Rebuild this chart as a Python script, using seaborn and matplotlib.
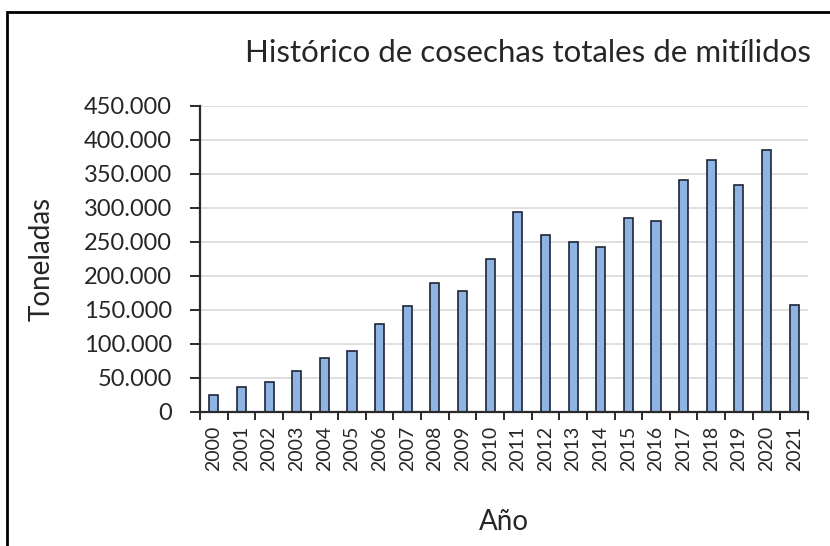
import matplotlib
matplotlib.use("Agg")
import matplotlib.pyplot as plt
import seaborn as sns
import pandas as pd
import numpy as np
from matplotlib.patches import Rectangle
from matplotlib.ticker import FuncFormatter

years = [str(y) for y in range(2000, 2022)]
toneladas = [25000, 37000, 44000, 60000, 80000, 89000, 130000, 156000, 190000, 178000,
             225000, 294000, 261000, 250000, 243000, 285000, 281000, 341000, 371000, 334000,
             386000, 157000]
y_ticks = [0, 50000, 100000, 150000, 200000, 250000, 300000, 350000, 400000, 450000]

title = "Histórico de cosechas totales de mitílidos"
xlabel = "Año"
ylabel = "Toneladas"

sns.set_theme(style="white")
plt.rcParams['font.family'] = ['Lato', 'DejaVu Sans']

df = pd.DataFrame({"year": years, "t": toneladas})

fig = plt.figure(figsize=(8.3, 5.46), dpi=100)
ax = fig.add_axes([200/830, 1-412/546, 608/830, 306/546])

sns.barplot(data=df, x="year", y="t", ax=ax, color="#8FB4E3", width=0.33,
            edgecolor="#1c2636", linewidth=1.2, saturation=1)

ax.set_ylim(0, 450000)
ax.set_xlim(-0.5, len(years) - 0.5)
ax.set_yticks(y_ticks)
ax.yaxis.set_major_formatter(FuncFormatter(lambda v, p: f"{int(v):,}".replace(",", ".")))
ax.yaxis.grid(True, color="#D9D9D9", linewidth=1.2)
ax.set_axisbelow(True)

for s in ["top", "right"]:
    ax.spines[s].set_visible(False)
for s in ["left", "bottom"]:
    ax.spines[s].set_color("#2a2a2a")
    ax.spines[s].set_linewidth(1.6)

ax.tick_params(axis="y", direction="out", length=7, width=1.4, color="#2a2a2a",
               labelsize=17, labelcolor="#262626", pad=13, left=True)
ax.tick_params(axis="x", which="major", length=0, pad=10, labelsize=14,
               labelcolor="#262626", labelrotation=90, bottom=True)
ax.set_xticks(np.arange(-0.5, len(years), 1.0), minor=True)
ax.tick_params(axis="x", which="minor", direction="out", length=6, width=1.4,
               color="#2a2a2a", bottom=True)

ax.set_xlabel("")
ax.set_ylabel("")
ax.text(0.5, -0.36, xlabel, transform=ax.transAxes, ha="center", va="center",
        fontsize=20, color="#262626")
ax.text(-0.26, 0.5, ylabel, transform=ax.transAxes, ha="center", va="center",
        rotation=90, fontsize=20, color="#262626")
ax.text(0.539, 1.144, title, transform=ax.transAxes, ha="center", va="baseline",
        fontsize=22.5, color="#262626")

fig.patches.append(Rectangle((7/830, -0.1), 1.2, (1-12/546) + 0.1,
                             transform=fig.transFigure, fill=False,
                             edgecolor="black", linewidth=2.0))

fig.savefig("out.png", dpi=100)
